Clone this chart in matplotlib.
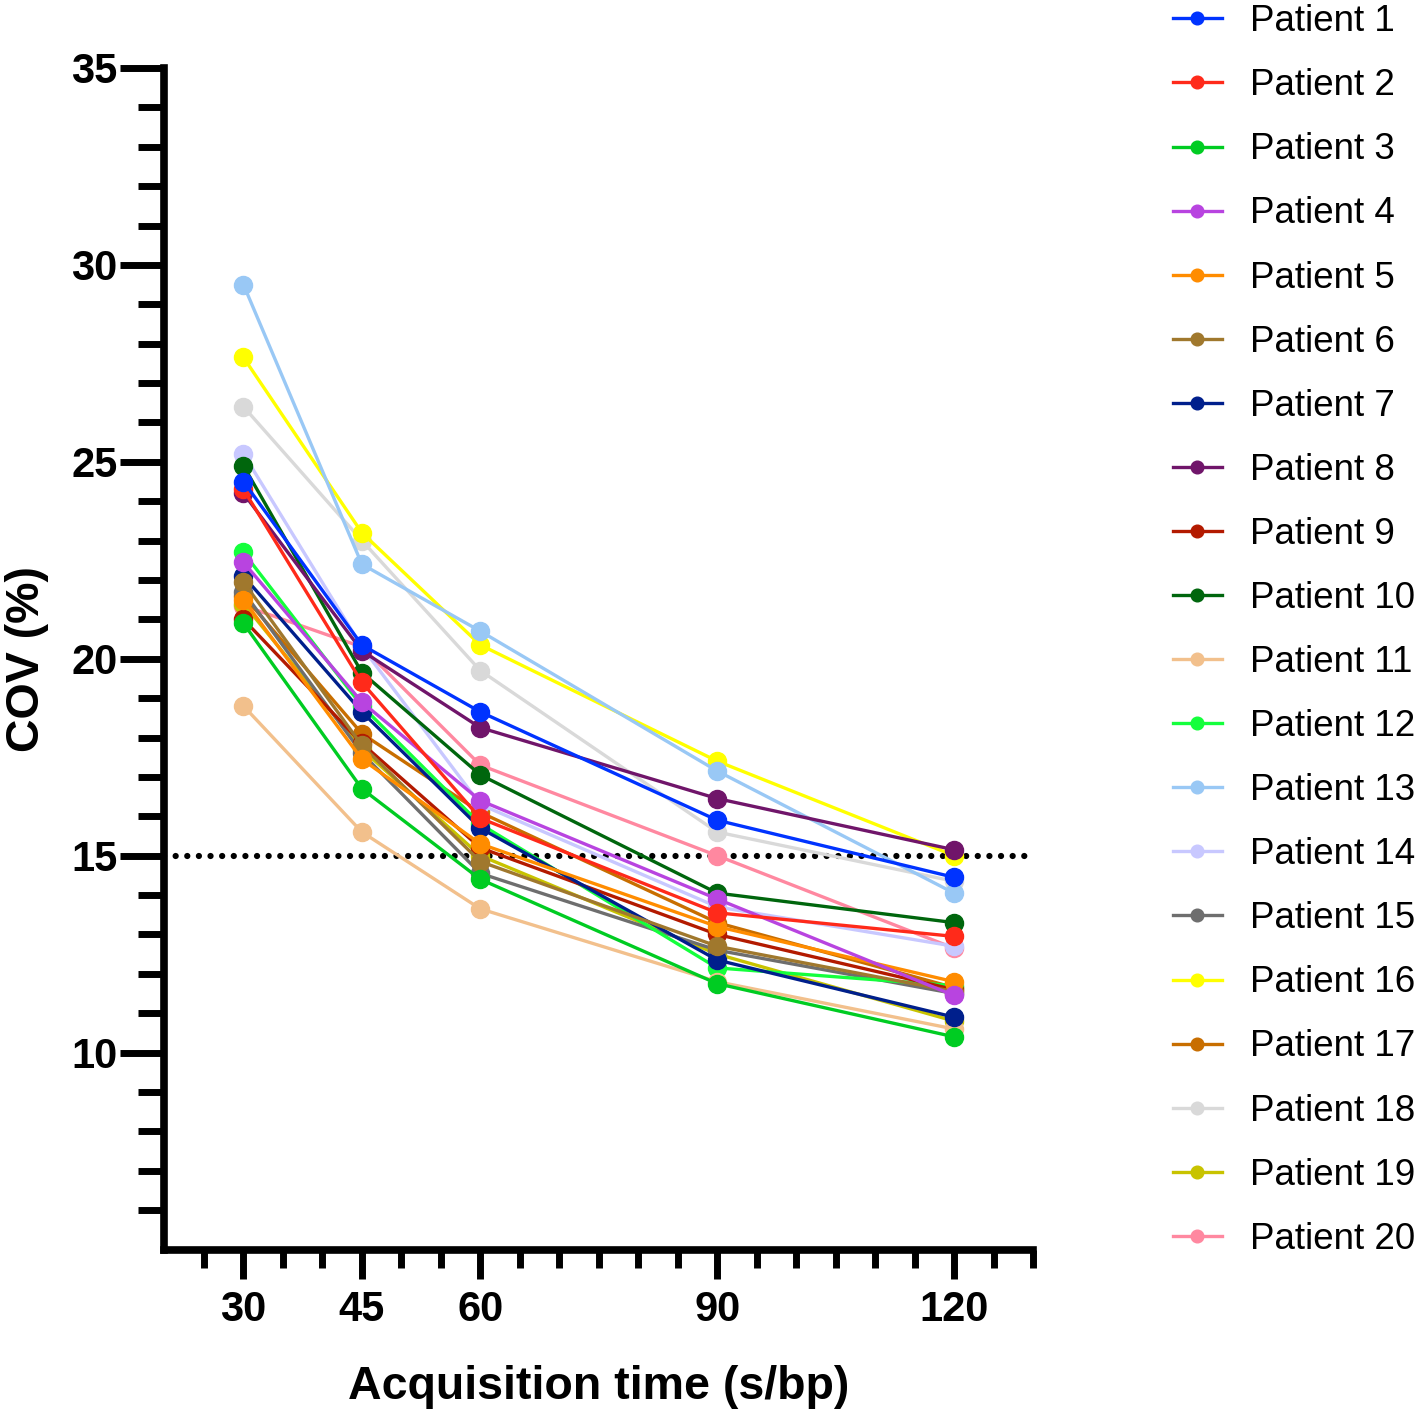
import matplotlib
matplotlib.use("Agg")
import matplotlib.pyplot as plt
from matplotlib.ticker import FixedLocator

plt.rcParams['font.family'] = ['Liberation Sans', 'DejaVu Sans']

times = [30, 45, 60, 90, 120]
tickLabels = ['30', '45', '60', '90', '120']

patients = ['Patient %d' % i for i in range(1, 21)]

p1 = [24.5, 20.35, 18.65, 15.9, 14.45]
p2 = [24.3, 19.4, 15.95, 13.55, 12.95]
p3 = [20.9, 16.7, 14.4, 11.75, 10.4]
p4 = [22.45, 18.9, 16.4, 13.9, 11.45]
p5 = [21.5, 17.45, 15.3, 13.2, 11.8]
p6 = [21.95, 17.8, 14.85, 12.7, 11.55]
p7 = [22.1, 18.65, 15.7, 12.35, 10.9]
p8 = [24.2, 20.2, 18.25, 16.45, 15.15]
p9 = [21.0, 17.85, 15.2, 13.0, 11.6]
p10 = [24.9, 19.65, 17.05, 14.05, 13.3]
p11 = [18.8, 15.6, 13.65, 11.8, 10.6]
p12 = [22.7, 18.8, 15.8, 12.15, 11.7]
p13 = [29.5, 22.4, 20.7, 17.15, 14.05]
p14 = [25.2, 20.3, 16.3, 13.7, 12.7]
p15 = [21.7, 17.6, 14.55, 12.6, 11.5]
p16 = [27.65, 23.2, 20.35, 17.4, 15.0]
p17 = [21.6, 18.1, 16.1, 13.3, 11.65]
p18 = [26.4, 23.0, 19.7, 15.6, 14.35]
p19 = [21.4, 17.7, 15.0, 12.5, 10.8]
p20 = [21.35, 20.3, 17.3, 15.0, 12.65]

covValues = [p1, p2, p3, p4, p5, p6, p7, p8, p9, p10,
             p11, p12, p13, p14, p15, p16, p17, p18, p19, p20]

colors = ['#0033ff', '#ff2a1a', '#00cc22', '#b844e0', '#ff8c00',
          '#a0782d', '#001f8c', '#70156a', '#b31a00', '#00660d',
          '#f2c08c', '#14ff3c', '#99c8f5', '#c8c8ff', '#6e6e6e',
          '#ffff00', '#c86e00', '#d9d9d9', '#c8c300', '#ff88a0']

THRESHOLD = 15

fig = plt.figure(figsize=(14.18, 14.13), dpi=100)
ax = fig.add_axes([0.116, 0.1157, 0.7285 - 0.116, 0.9519 - 0.1157])

handles = []
for i, (name, values, color) in enumerate(zip(patients, covValues, colors)):
    line, = ax.plot(times, values, color=color, lw=2.4, marker='o',
                    markersize=13, label=name, zorder=100 - i, clip_on=False)
    handles.append(line)

ax.axhline(THRESHOLD, color='black', lw=4.5, linestyle=(0, (0.01, 1.85)),
           dash_capstyle='round', zorder=5)

ax.set_xlim(20, 130)
ax.set_ylim(5, 35)

# minor ticks every 5 s/bp and every 1 %, none at the corner
ax.xaxis.set_major_locator(FixedLocator(times))
ax.set_xticklabels(tickLabels)
ax.xaxis.set_minor_locator(FixedLocator([x for x in range(25, 131, 5) if x not in times]))
ax.yaxis.set_major_locator(FixedLocator([10, 15, 20, 25, 30, 35]))
ax.yaxis.set_minor_locator(FixedLocator([y for y in range(6, 35) if y % 5 != 0]))

for side in ['top', 'right']:
    ax.spines[side].set_visible(False)
for side in ['left', 'bottom']:
    ax.spines[side].set_linewidth(5.5)

ax.tick_params(axis='y', which='major', length=32, width=5, labelsize=30, pad=2)
ax.tick_params(axis='y', which='minor', length=19, width=5)
ax.tick_params(axis='x', which='major', length=21, width=5, labelsize=30, pad=8)
ax.tick_params(axis='x', which='minor', length=13, width=5)
for label in ax.get_xticklabels() + ax.get_yticklabels():
    label.set_fontweight('bold')

ax.set_xlabel('Acquisition time (s/bp)', fontsize=33.5, fontweight='bold', labelpad=25)
ax.set_ylabel('COV (%)', fontsize=33.5, fontweight='bold', labelpad=16)

fig.legend(handles=handles, loc='upper left', bbox_to_anchor=(0.8272, 0.997),
           frameon=False, fontsize=26.5, handlelength=1.33, handletextpad=0.76,
           labelspacing=0.79, markerscale=0.7, borderpad=0, borderaxespad=0)

fig.savefig('out.png', dpi=100)
